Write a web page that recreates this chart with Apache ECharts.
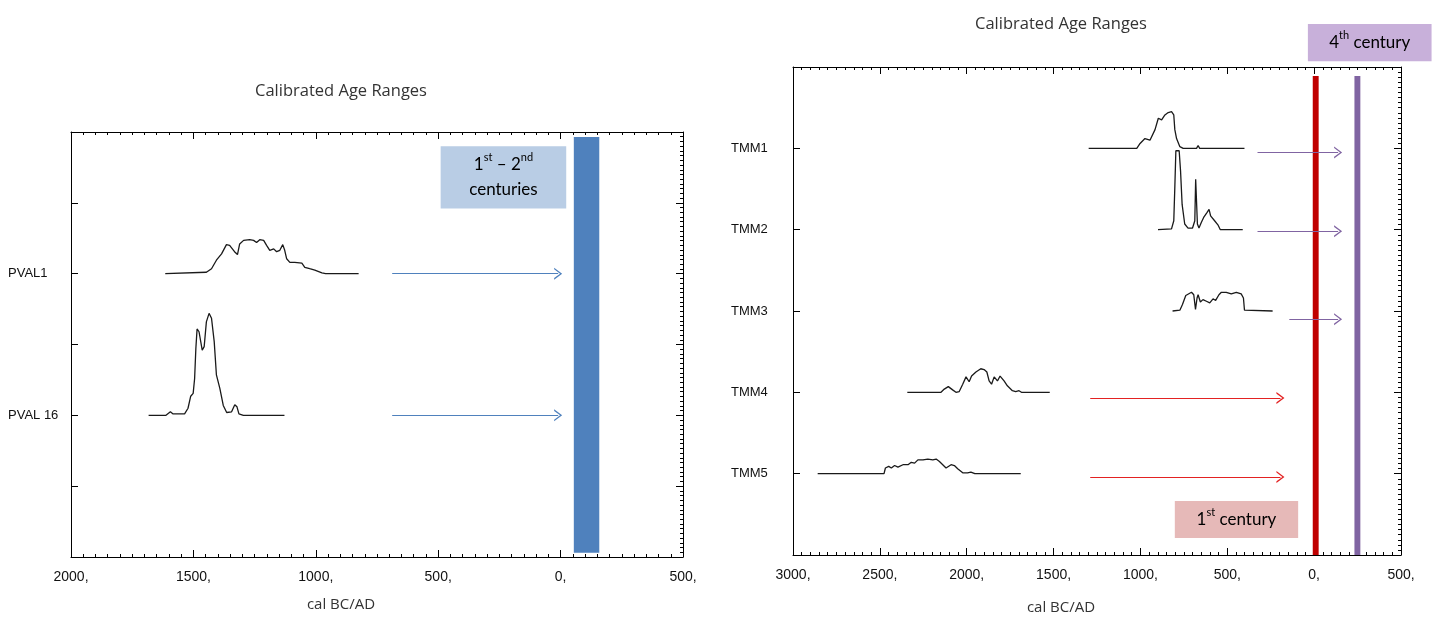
<!DOCTYPE html>
<html>
<head>
<meta charset="utf-8">
<script src="https://cdn.jsdelivr.net/npm/echarts/dist/echarts.min.js"></script>
<style>
html,body{margin:0;padding:0;background:#fff;}
#c{width:1432px;height:624px;}
</style>
</head>
<body>
<div id="c"></div>
<script>
// ---------- DATA ----------
const chartTitle = 'Calibrated Age Ranges';
const axisTitle = 'cal BC/AD';
// years: negative = BC, positive = AD
const leftTicks = { min: -2000, max: 500, step: 500 };
const rightTicks = { min: -3000, max: 500, step: 500 };

const leftSamples = ['PVAL1', 'PVAL 16'];
const rightSamples = ['TMM1', 'TMM2', 'TMM3', 'TMM4', 'TMM5'];

// probability curves: [year, relative probability]
const pval1 = [[-1615,0],[-1447,0.02],[-1426,0.07],[-1406,0.19],[-1385,0.28],[-1365,0.41],[-1352,0.40],[-1332,0.31],[-1320,0.27],[-1311,0.42],[-1295,0.47],[-1270,0.48],[-1254,0.47],[-1242,0.44],[-1229,0.48],[-1213,0.47],[-1201,0.40],[-1188,0.33],[-1172,0.35],[-1160,0.31],[-1147,0.33],[-1135,0.41],[-1127,0.33],[-1119,0.21],[-1106,0.16],[-1086,0.16],[-1057,0.15],[-1045,0.09],[-1025,0.07],[-1004,0.05],[-975,0.01],[-960,0],[-825,0]];
const pval16 = [[-1683,0],[-1612,0],[-1606,0.01],[-1594,0.05],[-1583,0.02],[-1536,0.02],[-1522,0.10],[-1511,0.27],[-1501,0.31],[-1495,0.52],[-1490,0.94],[-1485,1.22],[-1477,1.18],[-1464,0.92],[-1456,0.97],[-1447,1.32],[-1436,1.44],[-1426,1.37],[-1415,1.04],[-1406,0.57],[-1392,0.38],[-1378,0.14],[-1364,0.04],[-1344,0.05],[-1331,0.15],[-1322,0.12],[-1314,0.02],[-1296,0],[-1128,0]];
const tmm1 = [[-1298,0],[-1125,0],[-1117,0.01],[-1109,0],[-1021,0],[-1002,0.06],[-974,0.12],[-964,0.11],[-945,0.10],[-916,0.23],[-897,0.37],[-878,0.35],[-859,0.41],[-840,0.44],[-821,0.45],[-808,0.41],[-802,0.23],[-792,0.12],[-773,0.02],[-754,0],[-677,0],[-668,0.035],[-659,0],[-616,0],[-611,0.01],[-606,0],[-401,0]];
const tmm2 = [[-899,0],[-821,0.01],[-808,0.11],[-802,0.52],[-796,0.97],[-789,0.98],[-777,0.97],[-769,0.72],[-760,0.31],[-745,0.07],[-726,0.02],[-700,0.02],[-687,0.11],[-682,0.62],[-676,0.62],[-672,0.07],[-663,0.02],[-649,0.09],[-636,0.15],[-626,0.13],[-617,0.21],[-605,0.25],[-596,0.17],[-586,0.15],[-573,0.11],[-554,0.06],[-540,0],[-411,0]];
const tmm3 = [[-815,0],[-773,0.01],[-758,0.08],[-739,0.19],[-706,0.23],[-693,0.20],[-683,0.02],[-674,0.16],[-668,0.20],[-655,0.11],[-640,0.14],[-620,0.12],[-601,0.10],[-582,0.15],[-567,0.13],[-548,0.20],[-534,0.23],[-506,0.23],[-477,0.21],[-448,0.23],[-420,0.21],[-407,0.16],[-401,0.01],[-395,0],[-239,0]];
const tmm4 = [[-2342,0],[-2148,0],[-2129,0.04],[-2106,0.07],[-2081,0.03],[-2062,0],[-2043,0.01],[-2023,0.10],[-2004,0.19],[-1986,0.13],[-1972,0.20],[-1947,0.25],[-1919,0.29],[-1900,0.28],[-1884,0.25],[-1871,0.14],[-1857,0.10],[-1842,0.19],[-1823,0.14],[-1808,0.20],[-1785,0.14],[-1766,0.08],[-1737,0.02],[-1718,0.01],[-1699,0.02],[-1685,0],[-1522,0]];
const tmm5 = [[-2858,0],[-2476,0],[-2468,0.07],[-2449,0.09],[-2434,0.07],[-2415,0.10],[-2396,0.08],[-2367,0.11],[-2338,0.11],[-2319,0.14],[-2300,0.13],[-2281,0.17],[-2252,0.17],[-2224,0.18],[-2195,0.17],[-2176,0.18],[-2157,0.15],[-2138,0.11],[-2119,0.07],[-2090,0.11],[-2071,0.10],[-2052,0.06],[-2023,0.01],[-1995,0.01],[-1976,0.02],[-1953,0],[-1689,0]];

const leftCurves = [pval1, pval16];
const rightCurves = [tmm1, tmm2, tmm3, tmm4, tmm5];

// arrows: [fromYear, toYear, level]
const leftArrows = [[-688, -10, 4], [-688, -10, 2]];
const rightArrowsPurple = [[-326, 138, 4.95], [-326, 138, 3.98], [-143, 138, 2.9]];
const rightArrowsRed = [[-1289, -194, 1.93], [-1289, -194, 0.96]];

// period bars: [fromYear, toYear, lowLevel, highLevel]
const blueBar = [54, 158, 0.06, 5.93];
const redBar = [-8, 26, 0, 5.89];
const purpleBar = [232, 266, 0, 5.89];

// note boxes: [fromYear, toYear, lowLevel, highLevel]
const noteLeft = [-490, 23, 4.92, 5.80];
const note4th = [-36, 676, 6.07, 6.53];
const note1st = [-802, -92, 0.21, 0.665];

// ---------- CHART ----------
const chart = echarts.init(document.getElementById('c'), null, { renderer: 'canvas' });
const tickFont = 'Liberation Sans';
const chevron = 'path://M0,10L5,0L10,10L8.6,10L5,2.6L1.4,10Z';

function xAxisPair(gi, t) {
  const base = {
    gridIndex: gi, type: 'value', min: t.min, max: t.max, interval: t.step,
    splitLine: { show: false },
    axisLine: { show: true, onZero: false, lineStyle: { color: '#000', width: 1 } },
    axisTick: { show: true, inside: true, length: 7, lineStyle: { color: '#000' } },
    minorTick: { show: true, splitNumber: 10, length: 3, lineStyle: { color: '#000' } }
  };
  return [
    Object.assign({}, base, {
      position: 'bottom',
      axisLabel: {
        show: true, margin: 13, fontFamily: tickFont, fontSize: 14, color: '#111',
        showMinLabel: true, showMaxLabel: true,
        formatter: v => Math.abs(v) + ','
      }
    }),
    Object.assign({}, base, { position: 'top', axisLabel: { show: false } })
  ];
}
function yAxisPair(gi, names, levelOf, minorSplit) {
  const base = {
    gridIndex: gi, type: 'value', min: 0, max: 6, interval: 1,
    splitLine: { show: false },
    axisLine: { show: true, onZero: false, lineStyle: { color: '#000', width: 1 } },
    axisTick: { show: true, inside: true, length: 7, lineStyle: { color: '#000' } }
  };
  return [
    Object.assign({}, base, {
      position: 'left',
      axisLabel: {
        show: true, align: 'left', margin: gi === 0 ? 63 : 62,
        fontFamily: tickFont, fontSize: 13, color: '#111',
        formatter: v => { const i = names.findIndex((n, k) => levelOf(k) === v); return i >= 0 ? names[i] : ''; }
      }
    }),
    Object.assign({}, base, {
      position: 'right', axisLabel: { show: false },
      minorTick: { show: true, splitNumber: minorSplit, length: 3, lineStyle: { color: '#000' } }
    })
  ];
}
const leftLevel = i => 4 - 2 * i;
const rightLevel = i => 5 - i;

const series = [];
function addCurves(curves, levelOf, xi, yi) {
  curves.forEach((c, i) => {
    series.push({
      type: 'line', xAxisIndex: xi, yAxisIndex: yi, symbol: 'none', silent: true,
      lineStyle: { color: '#1a1a1a', width: 1.3 }, animation: false,
      data: c.map(p => [p[0], levelOf(i) + p[1]])
    });
  });
}
addCurves(leftCurves, leftLevel, 0, 0);
addCurves(rightCurves, rightLevel, 2, 2);

function arrowSeries(arrs, color, xi, yi) {
  series.push({
    type: 'line', xAxisIndex: xi, yAxisIndex: yi, data: [], silent: true, animation: false,
    markLine: {
      silent: true, animation: false, symbol: ['none', chevron], symbolSize: [12, 8],
      label: { show: false },
      lineStyle: { color: color, width: 1, type: 'solid' },
      data: arrs.map(a => [{ coord: [a[0], a[2]] }, { coord: [a[1], a[2]] }])
    }
  });
}
arrowSeries(leftArrows, '#4f81bd', 0, 0);
arrowSeries(rightArrowsPurple, '#8064a2', 2, 2);
arrowSeries(rightArrowsRed, '#e32222', 2, 2);

function barSeries(b, color, xi, yi) {
  series.push({
    type: 'line', xAxisIndex: xi, yAxisIndex: yi, data: [], silent: true, animation: false,
    markArea: {
      silent: true, animation: false, itemStyle: { color: color, opacity: 1 },
      data: [[{ coord: [b[0], b[2]] }, { coord: [b[1], b[3]] }]]
    }
  });
}
barSeries(blueBar, '#4f81bd', 0, 0);
barSeries(redBar, '#c00000', 2, 2);
barSeries(purpleBar, '#8064a2', 2, 2);

const xs0 = xAxisPair(0, leftTicks), xs1 = xAxisPair(1, rightTicks);
const ys0 = yAxisPair(0, leftSamples, leftLevel, 15), ys1 = yAxisPair(1, rightSamples, rightLevel, 16);

chart.setOption({
  animation: false,
  backgroundColor: '#fff',
  grid: [
    { left: 71, top: 132, width: 612, height: 425, outerBoundsMode: 'none', containLabel: false },
    { left: 793, top: 67, width: 608, height: 488, outerBoundsMode: 'none', containLabel: false }
  ],
  xAxis: [xs0[0], xs0[1], xs1[0], xs1[1]],
  yAxis: [ys0[0], ys0[1], ys1[0], ys1[1]],
  series: series
});

// annotations placed through the axes' scales
function rectOf(gi, n) {
  const a = chart.convertToPixel({ gridIndex: gi }, [n[0], n[3]]);
  const b = chart.convertToPixel({ gridIndex: gi }, [n[1], n[2]]);
  return { x: Math.min(a[0], b[0]), y: Math.min(a[1], b[1]), width: Math.abs(b[0] - a[0]), height: Math.abs(b[1] - a[1]) };
}
const rich = {
  n: { fontFamily: 'Lato', fontSize: 17, color: '#222', lineHeight: 25 },
  s: { fontFamily: 'Lato', fontSize: 11, color: '#222', verticalAlign: 'top', lineHeight: 25 }
};
function note(gi, n, fill, text) {
  const r = rectOf(gi, n);
  return [
    { type: 'rect', shape: r, style: { fill: fill }, z: 50, silent: true },
    { type: 'text', x: r.x + r.width / 2, y: r.y + r.height / 2, z: 51, silent: true,
      style: { text: text, rich: rich, align: 'center', verticalAlign: 'middle', textAlign: 'center', textVerticalAlign: 'middle' } }
  ];
}
function label(x, y, text, size) {
  return { type: 'text', x: x, y: y, silent: true,
    style: { text: text, fontFamily: 'Open Sans', fontSize: size, fill: '#333', textAlign: 'center', textVerticalAlign: 'middle', align: 'center', verticalAlign: 'middle' } };
}
// the original figure centres its titles slightly left of the plot middle
const titleShift = 36;
const top0 = chart.convertToPixel({ gridIndex: 0 }, [(leftTicks.min + leftTicks.max) / 2, 6]);
const top1 = chart.convertToPixel({ gridIndex: 1 }, [(rightTicks.min + rightTicks.max) / 2, 6]);
const bot0 = chart.convertToPixel({ gridIndex: 0 }, [(leftTicks.min + leftTicks.max) / 2, 0]);
const bot1 = chart.convertToPixel({ gridIndex: 1 }, [(rightTicks.min + rightTicks.max) / 2, 0]);
const graphics = []
  .concat(note(0, noteLeft, '#b9cde5', '{n|1}{s|st}{n| – 2}{s|nd}\n{n|centuries}'))
  .concat(note(1, note4th, '#c8b0da', '{n|4}{s|th}{n| century}'))
  .concat(note(1, note1st, '#e6b9b8', '{n|1}{s|st}{n| century}'))
  .concat([
    label(top0[0] - titleShift, top0[1] - 41, chartTitle, 16.5),
    label(top1[0] - titleShift, top1[1] - 43, chartTitle, 16.5),
    label(bot0[0] - titleShift, bot0[1] + 48, axisTitle, 15),
    label(bot1[0] - titleShift, bot1[1] + 53, axisTitle, 15)
  ]);
chart.setOption({ graphic: graphics });
</script>
</body>
</html>
